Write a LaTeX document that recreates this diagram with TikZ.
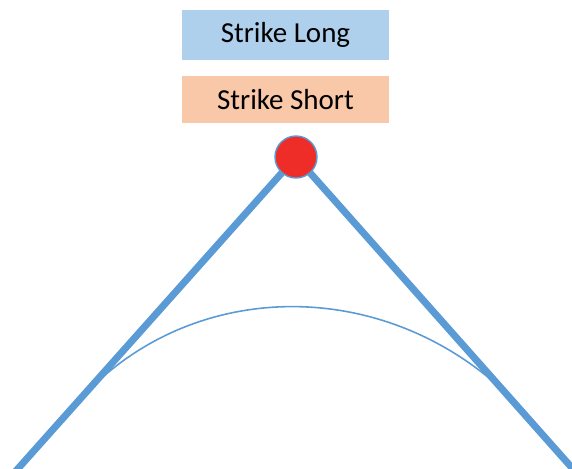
\documentclass[tikz,border=0pt]{standalone}
\usepackage{fontspec}
\setmainfont{Carlito}
\definecolor{legblue}{HTML}{AFD0EC}
\definecolor{legorange}{HTML}{F8C8A8}
\definecolor{payline}{HTML}{5B9BD5}
\definecolor{strikered}{HTML}{EE2D29}
\tikzset{
  legbox/.style={minimum width=207*0.02cm, inner sep=0pt, font=\fontsize{16.5}{19}\selectfont},
  wing/.style={payline, line width=4pt},
  smooth curve/.style={payline, line width=0.9pt},
  strikedot/.style={circle, fill=strikered, draw=payline, line width=0.8pt, minimum size=42*0.02cm, inner sep=0pt}
}

\begin{document}
\begin{tikzpicture}[x=0.02cm, y=-0.02cm]

  \useasboundingbox (0,0) rectangle (572,469);

  % legend
  \node[legbox, fill=legblue, minimum height=50*0.02cm] (long) at (285.5,35) {Strike Long};
  \node[legbox, fill=legorange, minimum height=47*0.02cm] (short) at (285.5,100) {Strike Short};

  % payoff wings
  \coordinate (apex) at (296,157);
  \coordinate (lefttail) at (15,472);
  \coordinate (righttail) at (573,469);
  \draw[wing] (apex) -- (lefttail);
  \draw[wing] (apex) -- (righttail);

  % value before expiry
  \coordinate (arcstart) at (92,387);
  \coordinate (arcend) at (505,392);
  \draw[smooth curve] (arcstart) .. controls (203,279) and (384,279) .. (arcend);

  \node[strikedot] (strike) at (apex) {};

\end{tikzpicture}
\end{document}
